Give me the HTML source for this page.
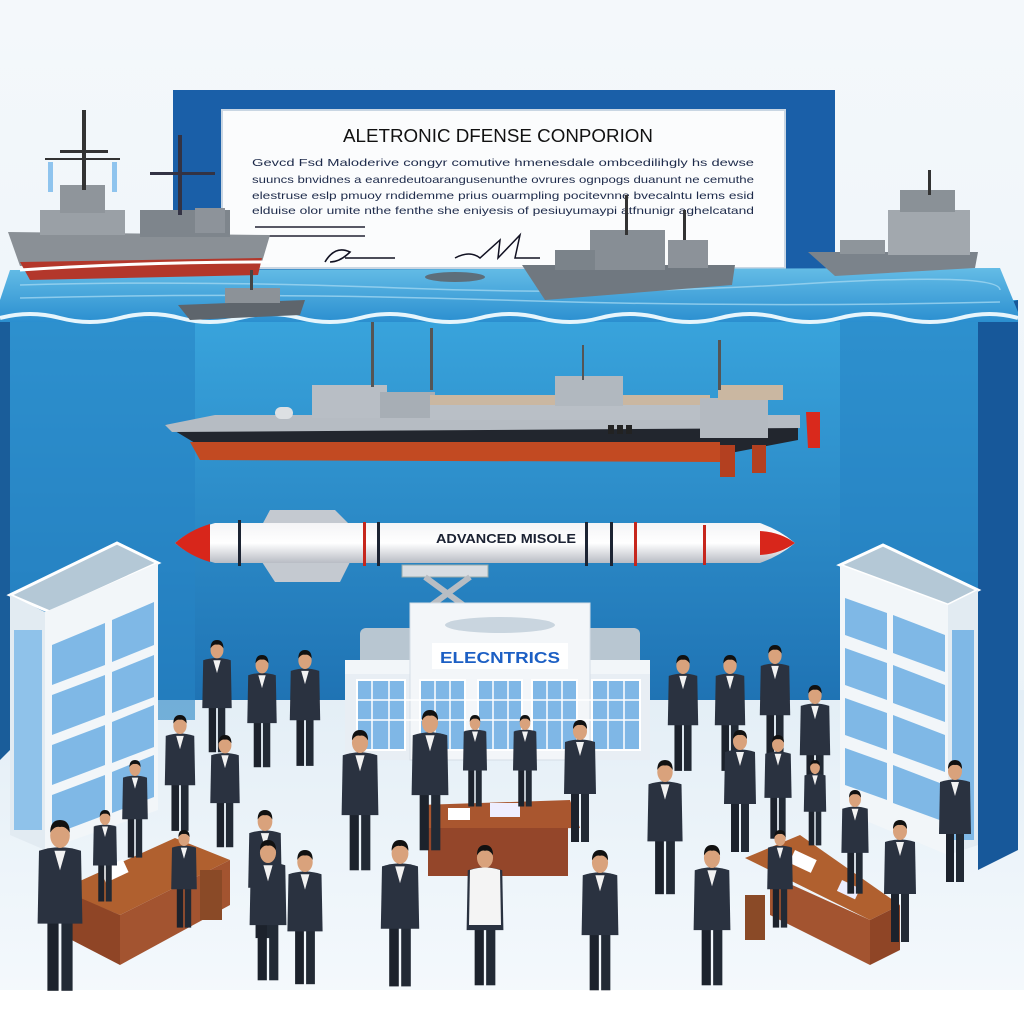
<!DOCTYPE html>
<html><head><meta charset="utf-8"><style>
html,body{margin:0;padding:0;background:#fff}
svg{display:block}
text{font-family:"Liberation Sans",sans-serif}
</style></head><body>
<svg width="1024" height="1024" viewBox="0 0 1024 1024" xmlns="http://www.w3.org/2000/svg">
<defs>
<linearGradient id="sky" x1="0" y1="0" x2="0" y2="1"><stop offset="0" stop-color="#f4f8fb"/><stop offset="1" stop-color="#e6f0f7"/></linearGradient>
<linearGradient id="wall" x1="0" y1="0" x2="0" y2="1"><stop offset="0" stop-color="#3aa6de"/><stop offset="1" stop-color="#1f73b4"/></linearGradient>
<linearGradient id="water" x1="0" y1="0" x2="0" y2="1"><stop offset="0" stop-color="#64bce6"/><stop offset="1" stop-color="#2b8fd0"/></linearGradient>
<linearGradient id="mis" x1="0" y1="0" x2="0" y2="1"><stop offset="0" stop-color="#f4f4f6"/><stop offset="0.5" stop-color="#ffffff"/><stop offset="1" stop-color="#b8bcc4"/></linearGradient>
<linearGradient id="floor" x1="0" y1="0" x2="0" y2="1"><stop offset="0" stop-color="#e3eef6"/><stop offset="1" stop-color="#f6fafd"/></linearGradient>
<g id="p">
  <rect x="-9" y="70" width="8" height="52" fill="#1c222c"/>
  <rect x="1" y="70" width="8" height="52" fill="#222a35"/>
  <path d="M-15 22 Q0 17 15 22 L16 74 L-16 74 Z" fill="#2a3240"/>
  <path d="M-4 22 L0 36 L4 22 Z" fill="#f2f2f2"/>
  <ellipse cx="0" cy="11" rx="7" ry="9" fill="#d9a27c"/>
  <path d="M-7 9 Q-7 0 0 0 Q7 0 7 9 Q4 4 0 5 Q-4 4 -7 9Z" fill="#111"/>
</g>
<g id="bw">
  <rect x="0" y="0" width="36" height="22" fill="#8cc4ec" stroke="#fff" stroke-width="2"/>
</g>
</defs>

<rect width="1024" height="1024" fill="url(#sky)"/>
<!-- floor -->
<rect x="0" y="690" width="1024" height="334" fill="url(#floor)"/>
<rect x="0" y="990" width="1024" height="34" fill="#fff"/>

<!-- back frame -->
<rect x="173" y="90" width="662" height="220" fill="#1a5fa8"/>
<rect x="222" y="110" width="563" height="158" fill="#fbfcfd" stroke="#c9d6e3" stroke-width="2"/>
<text x="498" y="142" font-size="18" text-anchor="middle" fill="#111" textLength="310" lengthAdjust="spacingAndGlyphs">ALETRONIC  DFENSE CONPORION</text>
<g font-size="10.5" fill="#1d2a4a">
<text x="252" y="166" textLength="502" lengthAdjust="spacingAndGlyphs">Gevcd Fsd Maloderive congyr comutive hmenesdale ombcedilihgly hs dewse</text>
<text x="252" y="183" textLength="502" lengthAdjust="spacingAndGlyphs">suuncs bnvidnes a eanredeutoarangusenunthe ovrures ognpogs duanunt ne cemuthe</text>
<text x="252" y="199" textLength="502" lengthAdjust="spacingAndGlyphs">elestruse eslp pmuoy rndidemme prius ouarmpling pocitevnne bvecalntu lems esid</text>
<text x="252" y="214" textLength="502" lengthAdjust="spacingAndGlyphs">elduise olor umite nthe fenthe she eniyesis of pesiuyumaypi atfnunigr aghelcatand</text>
</g>
<line x1="255" y1="227" x2="365" y2="227" stroke="#223" stroke-width="1.5"/>
<line x1="255" y1="236" x2="365" y2="236" stroke="#223" stroke-width="1.5"/>
<path d="M325 262 Q335 245 350 252 Q340 262 330 262 M345 258 L395 258" stroke="#112" stroke-width="1.6" fill="none"/>
<path d="M455 258 Q470 250 480 258 L500 240 L498 258 L520 235 L515 258 L540 258" stroke="#112" stroke-width="1.5" fill="none"/>

<!-- main box wall -->
<rect x="0" y="300" width="1018" height="400" fill="url(#wall)"/>
<polygon points="0,300 10,300 10,750 0,760" fill="#1a5d9a"/>
<polygon points="978,310 1018,300 1018,850 978,870" fill="#17589a"/>
<rect x="10" y="300" width="185" height="420" fill="#2684c4" opacity="0.6"/>
<rect x="840" y="300" width="138" height="420" fill="#2684c4" opacity="0.6"/>

<!-- water -->
<polygon points="10,270 1000,268 1018,312 1018,322 0,322 0,300" fill="url(#water)"/>
<path d="M0 318 Q30 310 60 318 T120 318 T180 318 T240 318 T300 318 T360 318 T420 318 T480 318 T540 318 T600 318 T660 318 T720 318 T780 318 T840 318 T900 318 T960 318 T1018 318" stroke="#e6f5fc" stroke-width="4" fill="none"/>
<g stroke="#9fd6f1" stroke-width="1.5" fill="none" opacity="0.8">
<path d="M20 285 Q200 280 400 288 T800 284 T1000 290"/>
<path d="M20 298 Q250 292 500 300 T1000 302"/>
</g>

<!-- ships top -->
<g>
<polygon points="8,232 270,235 262,262 20,266" fill="#8a9096"/>
<polygon points="20,262 262,258 258,275 30,280" fill="#b3372b"/>
<rect x="40" y="210" width="85" height="25" fill="#9aa0a6"/>
<rect x="60" y="185" width="45" height="28" fill="#8f959b"/>
<rect x="82" y="110" width="4" height="80" fill="#333"/>
<rect x="60" y="150" width="48" height="3" fill="#333"/>
<rect x="45" y="158" width="75" height="2" fill="#333"/>
<rect x="48" y="162" width="5" height="30" fill="#8fc4ee"/><rect x="112" y="162" width="5" height="30" fill="#8fc4ee"/>
<rect x="140" y="210" width="90" height="27" fill="#7e858c"/>
<rect x="178" y="135" width="4" height="80" fill="#334"/>
<rect x="150" y="172" width="65" height="3" fill="#334"/>
<rect x="195" y="208" width="30" height="25" fill="#8d939a"/>
<path d="M20 270 Q140 262 270 262" stroke="#fff" stroke-width="3" fill="none"/>
</g>
<g>
<polygon points="178,305 305,300 300,315 190,320" fill="#5e656c"/>
<rect x="225" y="288" width="55" height="15" fill="#8c9298"/>
<rect x="250" y="270" width="3" height="20" fill="#444"/>
<ellipse cx="455" cy="277" rx="30" ry="5" fill="#5d6e7a"/>
</g>
<g>
<polygon points="522,265 735,265 732,285 545,300" fill="#707880"/>
<rect x="590" y="230" width="75" height="40" fill="#878e95"/>
<rect x="625" y="195" width="3" height="40" fill="#333"/>
<rect x="683" y="210" width="3" height="30" fill="#333"/>
<rect x="668" y="240" width="40" height="28" fill="#8c9299"/>
<rect x="555" y="250" width="40" height="20" fill="#7b838a"/>
</g>
<g>
<polygon points="808,252 978,252 975,268 835,276" fill="#7b838b"/>
<rect x="888" y="210" width="82" height="45" fill="#a2a8ae"/>
<rect x="900" y="190" width="55" height="22" fill="#8a9197"/>
<rect x="928" y="170" width="3" height="25" fill="#333"/>
<rect x="840" y="240" width="45" height="14" fill="#8e959b"/>
</g>

<!-- center ship -->
<g>
<polygon points="165,425 220,418 798,418 798,440 720,455 215,455" fill="#22262e"/>
<polygon points="190,442 720,442 720,462 200,460" fill="#c24a22"/>
<rect x="720" y="445" width="15" height="32" fill="#b34020"/><rect x="752" y="445" width="14" height="28" fill="#b34020"/>
<polygon points="165,425 215,415 800,415 800,428 172,432" fill="#b6bcc3"/>
<rect x="312" y="385" width="75" height="33" fill="#b8bec5"/>
<rect x="380" y="392" width="55" height="26" fill="#a7aeb5"/>
<rect x="430" y="400" width="280" height="20" fill="#b9bfc6"/>
<rect x="430" y="395" width="280" height="10" fill="#cab7a1"/>
<rect x="555" y="376" width="68" height="30" fill="#b1b8bf"/>
<rect x="700" y="398" width="68" height="40" fill="#b4bac1"/>
<rect x="718" y="385" width="65" height="15" fill="#cab7a1"/>
<rect x="608" y="425" width="6" height="9" fill="#222"/><rect x="617" y="425" width="6" height="9" fill="#222"/><rect x="626" y="425" width="6" height="9" fill="#222"/>
<rect x="371" y="322" width="3" height="65" fill="#555"/>
<rect x="430" y="328" width="3" height="62" fill="#555"/>
<rect x="582" y="345" width="2" height="35" fill="#555"/>
<rect x="718" y="340" width="3" height="50" fill="#555"/>
<rect x="275" y="407" width="18" height="12" rx="6" fill="#dde0e3"/>
<polygon points="806,412 820,412 820,448 808,448" fill="#d9291c"/>
</g>

<!-- missile -->
<g>
<polygon points="270,510 335,510 350,525 262,525" fill="#c4c9d0"/>
<polygon points="262,562 350,562 340,582 275,582" fill="#c4c9d0"/>
<path d="M215 523 L760 523 Q780 530 795 543 Q780 556 760 563 L215 563 Q190 556 175 543 Q190 530 215 523Z" fill="url(#mis)"/>
<path d="M175 543 Q190 530 210 524 L210 562 Q190 556 175 543Z" fill="#d8261b"/>
<path d="M795 543 Q780 532 760 531 L760 555 Q780 554 795 543Z" fill="#d8261b"/>
<rect x="238" y="520" width="3" height="46" fill="#1c2433"/>
<rect x="363" y="522" width="3" height="44" fill="#c6271d"/>
<rect x="377" y="522" width="3" height="44" fill="#1c2433"/>
<rect x="585" y="522" width="3" height="44" fill="#1c2433"/>
<rect x="610" y="522" width="3" height="44" fill="#1c2433"/>
<rect x="634" y="522" width="3" height="44" fill="#c6271d"/>
<rect x="703" y="525" width="3" height="40" fill="#c6271d"/>
<text x="436" y="543" font-size="13" font-weight="bold" fill="#1b2233" textLength="140" lengthAdjust="spacingAndGlyphs">ADVANCED MISOLE</text>
<rect x="402" y="565" width="86" height="12" fill="#d8dde2" stroke="#9aa" stroke-width="1"/>
<path d="M425 577 L470 610 M470 577 L425 610" stroke="#b8bdc3" stroke-width="6"/>
</g>

<!-- center building -->
<g>
<rect x="345" y="660" width="305" height="100" fill="#e8eef4"/>
<rect x="360" y="628" width="55" height="40" rx="6" fill="#b8c6d1"/>
<rect x="585" y="628" width="55" height="40" rx="6" fill="#b8c6d1"/>
<rect x="345" y="660" width="70" height="14" fill="#f2f6f9"/>
<rect x="580" y="660" width="70" height="14" fill="#f2f6f9"/>
<rect x="410" y="603" width="180" height="157" fill="#f3f6f9" stroke="#d6dee6"/>
<ellipse cx="500" cy="625" rx="55" ry="8" fill="#c9d5df"/>
<rect x="432" y="643" width="136" height="26" fill="#fff"/>
<text x="500" y="663" font-size="16" font-weight="bold" fill="#1c5fc4" text-anchor="middle" textLength="120" lengthAdjust="spacingAndGlyphs">ELECNTRICS</text>
<use href="#g1" x="356" y="680"/>
</g>
<g fill="#7fb7e6" stroke="#ffffff" stroke-width="2">
<rect x="357" y="680" width="48" height="70"/>
<rect x="420" y="680" width="45" height="70"/>
<rect x="478" y="680" width="44" height="70"/>
<rect x="532" y="680" width="45" height="70"/>
<rect x="592" y="680" width="48" height="70"/>
</g>
<g stroke="#ffffff" stroke-width="1.5">
<path d="M357 700 H640 M357 720 H640 M372 680 V750 M389 680 V750 M435 680 V750 M450 680 V750 M493 680 V750 M508 680 V750 M547 680 V750 M562 680 V750 M608 680 V750 M624 680 V750"/>
</g>

<!-- left building -->
<g>
<polygon points="10,595 117,543 158,563 50,612" fill="#b4c8d6" stroke="#fff" stroke-width="3"/>
<polygon points="10,595 45,612 45,850 10,835" fill="#e2ebf2"/>
<polygon points="45,612 158,563 158,810 45,850" fill="#f2f6f9"/>
<g fill="#7fb8e6">
<polygon points="52,645 105,623 105,665 52,685"/><polygon points="112,620 154,602 154,645 112,662"/>
<polygon points="52,695 105,675 105,715 52,735"/><polygon points="112,672 154,655 154,697 112,713"/>
<polygon points="52,745 105,725 105,765 52,785"/><polygon points="112,722 154,705 154,747 112,763"/>
<polygon points="52,795 105,775 105,815 52,835"/><polygon points="112,772 154,755 154,797 112,813"/>
<rect x="14" y="630" width="28" height="200" fill="#8fc2ea"/>
</g>
</g>
<!-- right building -->
<g>
<polygon points="840,565 883,545 978,590 948,605" fill="#b4c8d6" stroke="#fff" stroke-width="3"/>
<polygon points="840,565 948,605 948,855 840,810" fill="#f2f6f9"/>
<polygon points="948,605 978,590 978,845 948,855" fill="#e2ebf2"/>
<g fill="#7fb8e6">
<polygon points="845,598 887,613 887,650 845,635"/><polygon points="893,615 945,635 945,672 893,653"/>
<polygon points="845,648 887,663 887,700 845,685"/><polygon points="893,665 945,685 945,722 893,703"/>
<polygon points="845,698 887,713 887,750 845,735"/><polygon points="893,715 945,735 945,772 893,753"/>
<polygon points="845,748 887,763 887,800 845,785"/><polygon points="893,765 945,785 945,822 893,803"/>
<rect x="952" y="630" width="22" height="210"/>
</g>
</g>

<!-- tables -->
<g>
<polygon points="420,805 570,800 580,828 420,830" fill="#a9562f"/>
<rect x="428" y="828" width="140" height="48" fill="#94462a"/>
<rect x="448" y="808" width="22" height="12" fill="#fff"/><rect x="490" y="803" width="30" height="14" fill="#eef"/>
<polygon points="60,890 175,838 230,860 120,915" fill="#b0602f"/>
<polygon points="62,890 120,915 120,965 62,935" fill="#8f4526"/>
<polygon points="120,915 230,860 230,905 120,965" fill="#a35430"/>
<rect x="100" y="870" width="25" height="14" fill="#fff" transform="rotate(-25 100 870)"/>
<polygon points="745,858 800,835 900,905 870,920" fill="#b0602f"/>
<polygon points="870,920 900,905 900,950 870,965" fill="#8f4526"/>
<polygon points="770,875 870,920 870,965 770,915" fill="#a35430"/>
<rect x="795" y="850" width="24" height="14" fill="#fff" transform="rotate(25 795 850)"/>
<rect x="842" y="880" width="20" height="12" fill="#eef" transform="rotate(25 842 880)"/>
<rect x="200" y="870" width="22" height="50" fill="#8a4a27"/>
<rect x="745" y="895" width="20" height="45" fill="#8a4a27"/>
</g>

<!-- people (head top at y, scale by height) -->
<g>
<use href="#p" transform="translate(217,640) scale(0.92)"/>
<use href="#p" transform="translate(262,655) scale(0.92)"/>
<use href="#p" transform="translate(305,650) scale(0.95)"/>
<use href="#p" transform="translate(180,715) scale(0.95)"/>
<use href="#p" transform="translate(225,735) scale(0.92)"/>
<use href="#p" transform="translate(135,760) scale(0.8)"/>
<use href="#p" transform="translate(184,830) scale(0.8)"/>
<use href="#p" transform="translate(105,810) scale(0.75)"/>
<use href="#p" transform="translate(60,820) scale(1.4)"/>
<use href="#p" transform="translate(265,810) scale(1.05)"/>
<use href="#p" transform="translate(268,840) scale(1.15)"/>
<use href="#p" transform="translate(305,850) scale(1.1)"/>
<use href="#p" transform="translate(360,730) scale(1.15)"/>
<use href="#p" transform="translate(430,710) scale(1.15)"/>
<use href="#p" transform="translate(475,715) scale(0.75)"/>
<use href="#p" transform="translate(525,715) scale(0.75)"/>
<use href="#p" transform="translate(580,720) scale(1.0)"/>
<use href="#p" transform="translate(683,655) scale(0.95)"/>
<use href="#p" transform="translate(730,655) scale(0.95)"/>
<use href="#p" transform="translate(775,645) scale(0.95)"/>
<use href="#p" transform="translate(815,685) scale(0.95)"/>
<use href="#p" transform="translate(740,730) scale(1.0)"/>
<use href="#p" transform="translate(778,735) scale(0.85)"/>
<use href="#p" transform="translate(815,760) scale(0.7)"/>
<use href="#p" transform="translate(665,760) scale(1.1)"/>
<use href="#p" transform="translate(855,790) scale(0.85)"/>
<use href="#p" transform="translate(955,760) scale(1.0)"/>
<use href="#p" transform="translate(900,820) scale(1.0)"/>
<use href="#p" transform="translate(780,830) scale(0.8)"/>
<use href="#p" transform="translate(400,840) scale(1.2)"/>
<use href="#p" transform="translate(600,850) scale(1.15)"/>
<use href="#p" transform="translate(712,845) scale(1.15)"/>
<use href="#p" transform="translate(485,845) scale(1.15)"/>
</g>
<!-- white shirt man -->
<path d="M470 870 Q485 865 500 870 L501 925 L469 925 Z" fill="#f4f4f4"/>
</svg>
</body></html>
